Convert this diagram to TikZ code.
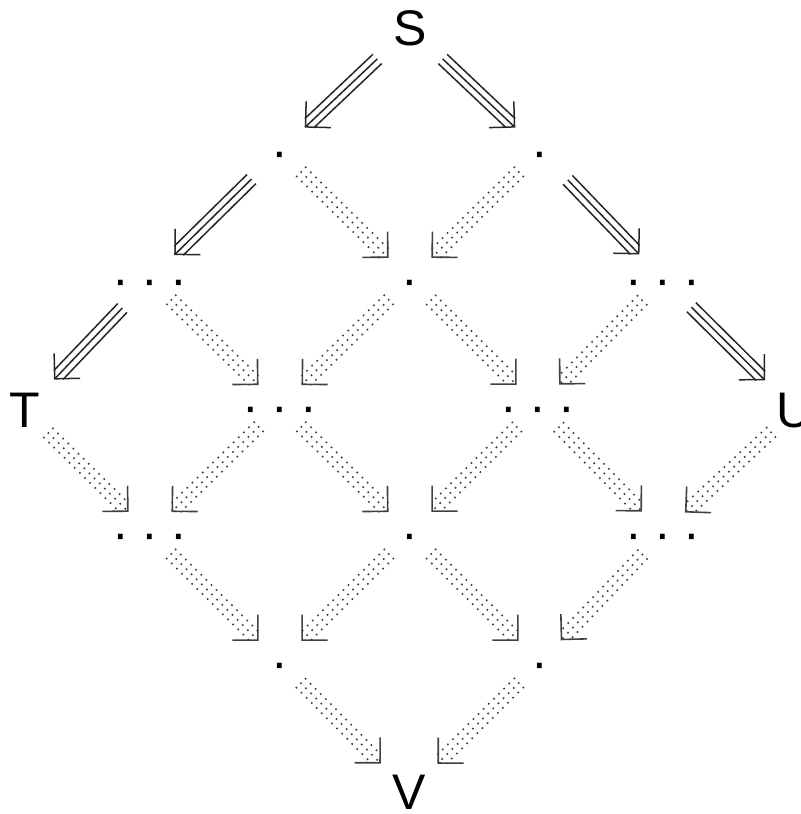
\documentclass[tikz,border=0pt]{standalone}
\usepackage{fontspec}
\setmainfont{Liberation Sans}
\usetikzlibrary{arrows.meta,calc}

% three dots of a grid position
\newcommand{\tripledots}{\makebox[14.5pt]{·}\makebox[14.5pt]{·}\makebox[14.5pt]{·}}
% triple arrow: [extra] {style} {from} {to}
\newcommand{\trip}[4][]{%
  \begin{scope}[#2,#1]
    \draw[shorten <=\tS, shorten >=\tE, -{Straight Barb[length=9pt,width=18pt]}] (#3.center) -- (#4.center);
    \draw[shorten <=\tS, shorten >=\tE+3.2pt] ($(#3)!3.2pt!90:(#4)$) -- ($(#4)!3.2pt!-90:(#3)$);
    \draw[shorten <=\tS, shorten >=\tE+3.2pt] ($(#3)!3.2pt!-90:(#4)$) -- ($(#4)!3.2pt!90:(#3)$);
  \end{scope}}

\begin{document}
\begin{tikzpicture}[x=0.5pt, y=-0.5pt,
    spot/.style={inner sep=0pt, text height=17.9pt, text depth=0pt, font=\fontsize{25}{30}\selectfont},
    tstart/.code={\def\tS{#1}},
    tend/.code={\def\tE{#1}},
    fulltri/.style={line width=0.75pt, black!85, tstart=20pt, tend=17pt},
    dottri/.style={line width=0.8pt, black!75, dash pattern=on 0.8pt off 2.8pt, tstart=14.5pt, tend=15pt}
]
\useasboundingbox (0,0) rectangle (800,814);

\node[spot] (S) at (410,28) {S};
\node[spot] (a1) at (280,151) {·};
\node[spot] (a2) at (540,151) {·};
\node[spot] (b1) at (150,279) {\tripledots};
\node[spot] (b2) at (410,279) {·};
\node[spot] (b3) at (663,279) {\tripledots};
\node[spot] (T) at (25,410) {T};
\node[spot] (c1) at (280,406) {\tripledots};
\node[spot] (c2) at (538,406) {\tripledots};
\node[spot] (U) at (795,410) {U};
\node[spot] (d1) at (150,533) {\tripledots};
\node[spot] (d2) at (410,533) {·};
\node[spot] (d3) at (663,533) {\tripledots};
\node[spot] (e1) at (280,662) {·};
\node[spot] (e2) at (540,662) {·};
\node[spot] (V) at (409,792) {V};

\trip[tstart=22.5pt]{fulltri}{S}{a1}
\trip[tstart=22.5pt]{fulltri}{S}{a2}
\trip{fulltri}{a1}{b1}
\trip{dottri}{a1}{b2}
\trip{dottri}{a2}{b2}
\trip{fulltri}{a2}{b3}
\trip[tend=21pt]{fulltri}{b1}{T}
\trip{dottri}{b1}{c1}
\trip{dottri}{b2}{c1}
\trip{dottri}{b2}{c2}
\trip{dottri}{b3}{c2}
\trip[tend=21pt]{fulltri}{b3}{U}
\trip[tstart=16pt]{dottri}{T}{d1}
\trip{dottri}{c1}{d1}
\trip{dottri}{c1}{d2}
\trip{dottri}{c2}{d2}
\trip{dottri}{c2}{d3}
\trip[tstart=16pt]{dottri}{U}{d3}
\trip{dottri}{d1}{e1}
\trip{dottri}{d2}{e1}
\trip{dottri}{d2}{e2}
\trip{dottri}{d3}{e2}
\trip[tend=20pt]{dottri}{e1}{V}
\trip[tend=20pt]{dottri}{e2}{V}
\end{tikzpicture}
\end{document}
